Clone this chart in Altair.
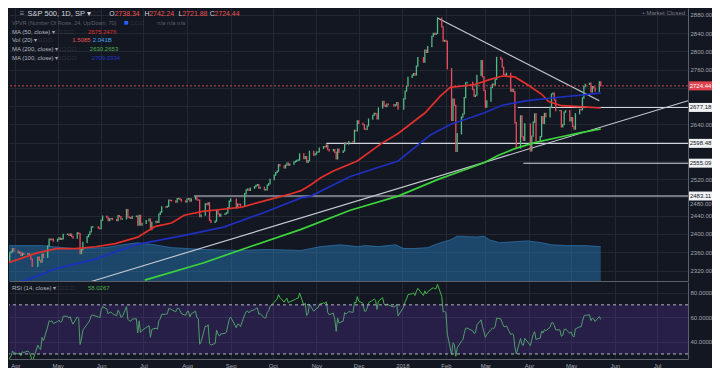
import altair as alt
import pandas as pd

FONT = "Liberation Sans"
BG = "#131722"
GRID = "#232732"
LBL = "#a3a6af"
DIM = "#5d606b"
UP = "#53b987"
DOWN = "#eb4d5c"

# ---------------- S&P 500 daily closes ----------------
close_2017_03 = [2395.96, 2381.92, 2383.12, 2375.31, 2368.39, 2362.98, 2364.87, 2372.60, 2373.47, 2365.45,
                 2385.26, 2381.38, 2378.25, 2373.47, 2344.02, 2348.45, 2345.96, 2343.98, 2341.59, 2358.57,
                 2361.13, 2368.06, 2362.72]
close_2017_04 = [2358.84, 2360.16, 2352.95, 2357.49, 2355.54, 2357.16, 2353.78, 2344.93, 2328.95, 2349.01,
                 2342.19, 2338.17, 2355.84, 2348.69, 2374.15, 2388.61, 2387.45, 2388.77, 2384.20]
close_2017_05 = [2388.33, 2391.17, 2388.13, 2389.52, 2399.29, 2399.38, 2396.92, 2399.63, 2394.44, 2390.90,
                 2402.32, 2400.67, 2357.03, 2365.72, 2381.73, 2394.02, 2398.42, 2404.39, 2415.07, 2415.82,
                 2412.91, 2411.80]
close_2017_06 = [2430.06, 2439.07, 2436.10, 2429.33, 2433.14, 2433.79, 2431.77, 2429.39, 2440.35, 2437.92,
                 2432.46, 2433.15, 2453.46, 2437.03, 2435.61, 2434.50, 2438.30, 2439.07, 2419.38, 2440.69,
                 2419.70, 2423.41]
close_2017_07 = [2429.01, 2432.54, 2409.75, 2425.18, 2427.43, 2425.53, 2443.25, 2447.83, 2459.27, 2459.14,
                 2460.61, 2473.83, 2473.45, 2472.54, 2469.91, 2477.13, 2477.83, 2475.42, 2472.10, 2470.30]
close_2017_08 = [2476.35, 2477.57, 2472.16, 2476.83, 2480.91, 2474.92, 2474.02, 2438.21, 2441.32, 2465.84,
                 2464.61, 2468.11, 2430.01, 2425.55, 2428.37, 2452.51, 2444.04, 2438.97, 2443.05, 2444.24,
                 2446.30, 2457.59, 2471.65]
close_2017_09 = [2476.55, 2457.85, 2465.54, 2465.10, 2461.43, 2488.11, 2496.48, 2498.37, 2495.62, 2500.23,
                 2503.87, 2506.65, 2508.24, 2500.60, 2502.22, 2496.66, 2496.84, 2507.04, 2510.06, 2519.36]
close_2017_10 = [2529.12, 2534.58, 2537.74, 2552.07, 2549.33, 2544.73, 2550.64, 2555.24, 2550.93, 2553.17,
                 2557.64, 2559.36, 2561.26, 2562.10, 2575.21, 2564.98, 2569.13, 2557.15, 2560.40, 2581.07,
                 2572.83, 2575.26]
close_2017_11 = [2579.36, 2579.85, 2587.84, 2591.13, 2590.64, 2594.38, 2584.62, 2582.30, 2584.84, 2578.87,
                 2564.62, 2585.64, 2578.85, 2582.14, 2599.03, 2597.08, 2602.42, 2601.42, 2627.04, 2626.07,
                 2647.58]
close_2017_12 = [2642.22, 2639.44, 2629.57, 2629.27, 2636.98, 2651.50, 2659.99, 2664.11, 2662.85, 2652.01,
                 2675.81, 2690.16, 2681.47, 2679.25, 2684.57, 2683.34, 2680.50, 2682.62, 2687.54, 2673.61]
close_2018_01 = [2695.81, 2713.06, 2723.99, 2743.15, 2747.71, 2751.29, 2748.23, 2767.56, 2786.24, 2776.42,
                 2802.56, 2798.03, 2810.30, 2832.97, 2839.13, 2837.54, 2839.25, 2872.87, 2853.53, 2822.43,
                 2823.81]
close_2018_02 = [2821.98, 2762.13, 2648.94, 2695.14, 2681.66, 2581.00, 2619.55, 2656.00, 2662.94, 2698.63,
                 2731.20, 2732.22, 2716.26, 2701.33, 2703.96, 2747.30, 2779.60, 2744.28, 2713.83]
close_2018_03 = [2677.67, 2691.25, 2720.94, 2728.12, 2726.80, 2738.97, 2786.57, 2783.02, 2765.31, 2749.48,
                 2747.33, 2752.01, 2712.92, 2716.94, 2711.93, 2643.69, 2588.26, 2658.55, 2612.62, 2605.00,
                 2640.87]
close_2018_04 = [2581.88, 2614.45, 2644.69, 2662.84, 2604.47, 2613.16, 2656.87, 2642.19, 2663.99, 2656.30,
                 2677.84, 2706.39, 2708.64, 2693.13, 2670.14, 2670.29, 2634.56, 2639.40, 2666.94, 2669.91,
                 2648.05]
close_2018_05 = [2654.80, 2635.67, 2629.73, 2663.42, 2672.63, 2671.92, 2697.79, 2723.07, 2727.72, 2730.13,
                 2711.45, 2722.46, 2720.13, 2712.97, 2733.01, 2724.44]

months = ["2017-03", "2017-04", "2017-05", "2017-06", "2017-07", "2017-08", "2017-09", "2017-10",
          "2017-11", "2017-12", "2018-01", "2018-02", "2018-03", "2018-04", "2018-05"]
closes_by_month = [close_2017_03, close_2017_04, close_2017_05, close_2017_06, close_2017_07,
                   close_2017_08, close_2017_09, close_2017_10, close_2017_11, close_2017_12,
                   close_2018_01, close_2018_02, close_2018_03, close_2018_04, close_2018_05]
holidays = ["2017-04-14", "2017-05-29", "2017-07-04", "2017-09-04", "2017-11-23", "2017-12-25",
            "2018-01-01", "2018-01-15", "2018-02-19", "2018-03-30", "2018-05-28"]

# ---------------- moving averages ----------------
ma50_dates = ["2017-03-27", "2017-04-16", "2017-04-30", "2017-05-14", "2017-05-28", "2017-06-11",
              "2017-06-27", "2017-07-09", "2017-07-21", "2017-07-30", "2017-08-13", "2017-08-20",
              "2017-09-09", "2017-09-23", "2017-10-14", "2017-10-21", "2017-10-28", "2017-11-04",
              "2017-11-13", "2017-11-30", "2017-12-17", "2017-12-29", "2018-01-17", "2018-01-28",
              "2018-02-04", "2018-02-21", "2018-03-04", "2018-03-13", "2018-03-22", "2018-03-31",
              "2018-04-10", "2018-04-15", "2018-04-24", "2018-05-07", "2018-05-22"]
ma50_vals = [2337, 2358, 2368, 2368, 2372, 2379, 2393, 2416, 2424, 2441, 2450, 2452, 2459, 2471, 2488,
             2495, 2508, 2523, 2538, 2560, 2598, 2620, 2665, 2702, 2721, 2727, 2738, 2746, 2744, 2727,
             2706, 2690, 2681, 2679, 2676]
ma100_dates = ["2017-03-27", "2017-04-09", "2017-04-30", "2017-05-28", "2017-06-25", "2017-07-30",
               "2017-08-27", "2017-09-23", "2017-10-21", "2017-10-28", "2017-11-25", "2017-12-29",
               "2018-01-21", "2018-02-04", "2018-02-28", "2018-03-13", "2018-03-31", "2018-04-24",
               "2018-05-08", "2018-05-22"]
ma100_vals = [2288, 2299, 2324, 2345, 2376, 2397, 2415, 2445, 2479, 2483, 2526, 2560, 2617, 2640, 2665,
              2682, 2692, 2700, 2704, 2709]
ma200_dates = ["2017-07-02", "2017-08-13", "2017-09-09", "2017-10-21", "2017-11-25", "2017-12-29",
               "2018-01-26", "2018-02-14", "2018-02-28", "2018-03-10", "2018-03-22", "2018-04-05",
               "2018-04-24", "2018-05-08", "2018-05-22"]
ma200_vals = [2299, 2337, 2366, 2410, 2452, 2483, 2519, 2540, 2556, 2572, 2587, 2600, 2613, 2622, 2630]

# ---------------- volume average, billions ----------------
vol_dates = ["2017-03-27", "2017-04-19", "2017-05-12", "2017-06-04", "2017-06-16", "2017-06-27",
             "2017-07-09", "2017-07-21", "2017-08-13", "2017-09-05", "2017-09-28", "2017-10-21",
             "2017-11-04", "2017-11-18", "2017-11-30", "2017-12-06", "2017-12-15", "2017-12-27",
             "2018-01-02", "2018-01-10", "2018-01-19", "2018-01-26", "2018-02-04", "2018-02-09",
             "2018-02-23", "2018-02-28", "2018-03-04", "2018-03-11", "2018-03-20", "2018-03-31",
             "2018-04-10", "2018-04-17", "2018-04-28", "2018-05-10", "2018-05-22"]
vol_vals = [2.10, 2.10, 1.93, 1.98, 2.15, 2.27, 2.15, 1.98, 1.87, 1.81, 1.87, 1.81, 2.04, 2.15, 2.04,
            2.10, 2.04, 2.15, 1.93, 1.93, 1.98, 2.21, 2.44, 2.66, 2.61, 2.66, 2.44, 2.27, 2.32, 2.38,
            2.27, 2.15, 2.10, 2.10, 2.04]

# ---------------- drawn levels and trend lines ----------------
level_prices = [2677.18, 2598.48, 2555.09, 2483.11]
level_starts = ["2018-03-24", "2017-11-08", "2018-03-28", "2017-08-06"]
last_close = 2724.44
trend_d1 = ["2018-01-26", "2017-05-25"]
trend_p1 = [2873, 2296]
trend_d2 = ["2018-05-21", "2018-07-23"]
trend_p2 = [2692, 2692]
price_ticks = list(range(2320, 2881, 40))
hidden_ticks = [2720, 2680, 2600, 2560, 2480]

# ---------------- build tables ----------------
rows = []
for ym, cl in zip(months, closes_by_month):
    start = pd.Timestamp(ym + "-01")
    end = start + pd.offsets.MonthEnd(0)
    days = pd.bdate_range(start, end, freq="C", holidays=holidays)
    for d, c in zip(days, cl):
        rows.append((d, c))
full = pd.DataFrame(rows, columns=["date", "close"])
full["open"] = full["close"].shift(1)
delta = full["close"].diff()
gain = delta.clip(lower=0)
loss = (-delta).clip(lower=0)
ag = gain.ewm(alpha=1 / 14, adjust=False).mean()
al = loss.ewm(alpha=1 / 14, adjust=False).mean()
full["rsi"] = 100 - 100 / (1 + ag / al)
full["d"] = full["date"].dt.strftime("%Y-%m-%d")
plot_df = full[full["date"] >= "2017-03-27"].dropna()[["d", "open", "close", "rsi"]].reset_index(drop=True)

ma_df = pd.concat([
    pd.DataFrame({"d": ma50_dates, "v": ma50_vals, "s": "MA50"}),
    pd.DataFrame({"d": ma100_dates, "v": ma100_vals, "s": "MA100"}),
    pd.DataFrame({"d": ma200_dates, "v": ma200_vals, "s": "MA200"}),
])
vol_df = pd.DataFrame({"d": vol_dates, "v": vol_vals})
lvl_df = pd.DataFrame({"d": level_starts, "p": level_prices, "t": [f"{p:.2f}" for p in level_prices]})
last_df = pd.DataFrame({"p": [last_close], "t": [f"{last_close:.2f}"]})
tr_df = pd.DataFrame({"d1": trend_d1, "p1": trend_p1, "d2": trend_d2, "p2": trend_p2})
one = pd.DataFrame({"k": [0]})

# ---------------- geometry ----------------
W, HM, HR = 679, 273, 77
sx, sy = W / 697.0, HM / 286.0
ry = HR / 81.0


def ms(s):
    return int(pd.Timestamp(s, tz="UTC").value // 10**6)


xscale = alt.Scale(type="utc", domain=[ms("2017-03-27 12:00"), ms("2018-07-23")])
month_ticks = [ms(str(t.date())) for t in pd.date_range("2017-04-01", "2018-07-01", freq="MS")]
xaxis_main = alt.Axis(values=month_ticks, labels=False, ticks=False, domain=True, domainColor="#5d606b",
                      grid=True, gridColor=GRID, title=None)
xaxis_rsi = alt.Axis(values=month_ticks, ticks=False, domain=True, domainColor="#5d606b", grid=True,
                     gridColor=GRID, title=None, labelFontSize=6, labelColor=LBL, labelPadding=3,
                     labelFlush=False, labelOverlap=False, labelFont=FONT,
                     labelExpr="utcFormat(datum.value, '%m') == '01' ? utcFormat(datum.value, '%Y') : utcFormat(datum.value, '%b')")
yscale = alt.Scale(domain=[2297, 2895], zero=False, nice=False)
hidden_expr = "indexof([" + ",".join(str(v) for v in hidden_ticks) + "], datum.value) >= 0 ? '' : datum.label"
yaxis = alt.Axis(orient="right", values=price_ticks, format=".2f", labelFontSize=6, labelExpr=hidden_expr,
                 labelColor=LBL, labelPadding=2, ticks=False, domain=True, domainColor="#5d606b",
                 grid=True, gridColor=GRID, title=None, labelFont=FONT)
rscale = alt.Scale(domain=[25.9, 88.6], zero=False, nice=False)
raxis = alt.Axis(orient="right", values=[40, 60, 80], format=".4f", labelFontSize=6, labelColor=LBL,
                 labelPadding=2, ticks=False, domain=True, domainColor="#5d606b", grid=True,
                 gridColor=GRID, title=None, labelFont=FONT)


def X(f):
    return alt.X(f, scale=xscale, axis=xaxis_main)


def Y(f=None, datum=None):
    if datum is not None:
        return alt.Y(datum=datum, scale=yscale, axis=yaxis)
    return alt.Y(f, scale=yscale, axis=yaxis)


def txt(s, x, y, color, size=6.0, align="left", weight="normal"):
    return alt.Chart(one).mark_text(text=s, align=align, baseline="middle", fontSize=size,
                                    fontWeight=weight, color=color, font=FONT).encode(
        x=alt.value(x * sx), y=alt.value(y * sy))


def rtxt(s, x, y, color, size=6.0):
    return alt.Chart(one).mark_text(text=s, align="left", baseline="middle", fontSize=size,
                                    color=color, font=FONT).encode(
        x=alt.value(x * sx), y=alt.value((y - 287) * ry))


# ---------------- main pane ----------------
vol = alt.Chart(vol_df).mark_area(color="#2b82c4", opacity=0.45, clip=True,
                                  line={"color": "#2f78b4", "strokeWidth": 1, "opacity": 0.7}).encode(
    x=X("d:T"), y=alt.Y("v:Q", scale=alt.Scale(domain=[0, 16.2], zero=True, nice=False), axis=None))

levels = alt.Chart(lvl_df).mark_rule(color="#d1d4dc", strokeWidth=1.1).encode(
    x=X("d:T"), x2=alt.value(W), y=Y("p:Q"))
trends = alt.Chart(tr_df).mark_rule(color="#c8cbd3", strokeWidth=1.1, clip=True).encode(
    x=X("d1:T"), x2="d2:T", y=Y("p1:Q"), y2="p2:Q")
candles = alt.Chart(plot_df).mark_rule(strokeWidth=1.3, strokeCap="square", clip=True).encode(
    x=X("d:T"), y=Y("open:Q"), y2="close:Q",
    color=alt.when("datum.close >= datum.open").then(alt.value(UP)).otherwise(alt.value(DOWN)))
mas = alt.Chart(ma_df).mark_line(strokeWidth=1.7, clip=True).encode(
    x=X("d:T"), y=Y("v:Q"),
    color=alt.Color("s:N", scale=alt.Scale(domain=["MA50", "MA100", "MA200"],
                                           range=["#e2302b", "#1f2fbf", "#3bd43b"]), legend=None))
lastline = alt.Chart(one).mark_rule(color="#c9424f", strokeDash=[2, 2], strokeWidth=1).encode(
    y=Y(datum=last_close))

box_w = alt.Chart(lvl_df).mark_rect(color="#f0f1f4", yOffset=-4.5, y2Offset=4.5).encode(
    x=alt.value(W + 1), x2=alt.value(W + 24), y=Y("p:Q"), y2="p:Q")
box_wt = alt.Chart(lvl_df).mark_text(color="#131722", fontSize=6, align="center", baseline="middle",
                                     font=FONT).encode(x=alt.value(W + 12.5), y=Y("p:Q"), text="t:N")
box_r = alt.Chart(last_df).mark_rect(color="#e0434f", yOffset=-4.5, y2Offset=4.5).encode(
    x=alt.value(W + 1), x2=alt.value(W + 24), y=Y("p:Q"), y2="p:Q")
box_rt = alt.Chart(last_df).mark_text(color="#ffffff", fontSize=6, align="center", baseline="middle",
                                      font=FONT).encode(x=alt.value(W + 12.5), y=Y("p:Q"), text="t:N")
# the 2480 label sits just under the 2483.11 box, as in the reference
lbl2480 = alt.Chart(one).mark_text(text="2480.00", color=LBL, fontSize=6, align="left", baseline="middle",
                                   dy=7, font=FONT).encode(x=alt.value(W + 2), y=Y(datum=2480))

ICON = "\u25a1 \u25a1 \u25a1 \u25a1"
OHLC_FS = 6.9
header = [
    txt("\u2261", 11, 6, "#9598a1", 8),
    txt("S&P 500, 1D, SP \u25be", 19, 6, "#d1d4dc", 7.5),
    txt("\u25a1 \u25a1", 84, 6, "#4a4e59", 7),
    txt("O", 103, 6, "#d1d4dc", OHLC_FS), txt("2738.34", 108.5, 6, "#ef5350", OHLC_FS),
    txt("H", 139, 6, "#d1d4dc", OHLC_FS), txt("2742.24", 144, 6, "#ef5350", OHLC_FS),
    txt("L", 174, 6, "#d1d4dc", OHLC_FS), txt("2721.88", 178, 6, "#ef5350", OHLC_FS),
    txt("C", 206, 6, "#d1d4dc", OHLC_FS), txt("2724.44", 211, 6, "#ef5350", OHLC_FS),
    txt("VPVR (Number Of Rows, 24, Up/Down, 70)", 3, 15.5, DIM, 5.4),
    txt("\u25a0", 118, 15.5, "#2962ff", 7.5), txt("\u25a1 \u25a1 \u25a1", 125, 15.5, "#4a4e59", 5.5),
    txt("n/a   n/a   n/a", 152, 15.5, DIM, 6),
    txt("MA (50, close) \u25be", 3, 24.7, "#b2b5be", 6), txt(ICON, 46, 24.7, "#4a4e59", 6),
    txt("2675.2476", 81, 24.7, "#e2302b", 6),
    txt("Vol (20) \u25be", 3, 33.7, "#b2b5be", 6), txt("\u25a1 \u25a1 \u25a1", 30, 33.7, "#4a4e59", 6),
    txt("1.5085", 65, 33.7, "#ef5350", 6), txt("2.041B", 86, 33.7, "#42a5f5", 6),
    txt("MA (200, close) \u25be", 3, 43, "#b2b5be", 6), txt(ICON, 49, 43, "#4a4e59", 6),
    txt("2630.2653", 83, 43, "#4caf50", 6),
    txt("MA (100, close) \u25be", 3, 52, "#b2b5be", 6), txt(ICON, 49, 52, "#4a4e59", 6),
    txt("2709.0934", 85, 52, "#2436c8", 6),
    txt("\u2022 Market Closed", 694, 5.5, "#787b86", 6, align="right"),
]

price_layers = alt.layer(levels, trends, candles, mas, lastline, box_w, box_wt, box_r, box_rt, lbl2480,
                         *header)
main = alt.layer(vol, price_layers).resolve_scale(y="independent").properties(width=W, height=HM)

# ---------------- RSI pane ----------------
band = alt.Chart(one).mark_rect(color="#7b3fe4", opacity=0.2).encode(
    x=alt.value(0), x2=alt.value(W),
    y=alt.Y(datum=70, scale=rscale, axis=raxis), y2=alt.datum(30))
r70 = alt.Chart(one).mark_rule(color="#b4b4c4", strokeDash=[3, 3], strokeWidth=1).encode(
    y=alt.Y(datum=70, scale=rscale, axis=raxis))
r30 = alt.Chart(one).mark_rule(color="#b4b4c4", strokeDash=[3, 3], strokeWidth=1).encode(
    y=alt.Y(datum=30, scale=rscale, axis=raxis))
rline = alt.Chart(plot_df).mark_line(color="#43b54a", strokeWidth=1, clip=True).encode(
    x=alt.X("d:T", scale=xscale, axis=xaxis_rsi), y=alt.Y("rsi:Q", scale=rscale, axis=raxis))
rsi_text = [
    rtxt("RSI (14, close) \u25be", 3, 293, "#b2b5be", 6),
    rtxt(ICON, 47, 293, "#4a4e59", 6),
    rtxt("58.0267", 81, 293, "#4caf50", 6),
]
rsi = alt.layer(rline, band, r70, r30, *rsi_text).properties(width=W, height=HR)

chart = alt.vconcat(main, rsi, spacing=1).properties(padding=0, background=BG).configure_view(
    strokeWidth=0)

chart.save("out.html", embed_options={"renderer": "svg", "actions": False})
